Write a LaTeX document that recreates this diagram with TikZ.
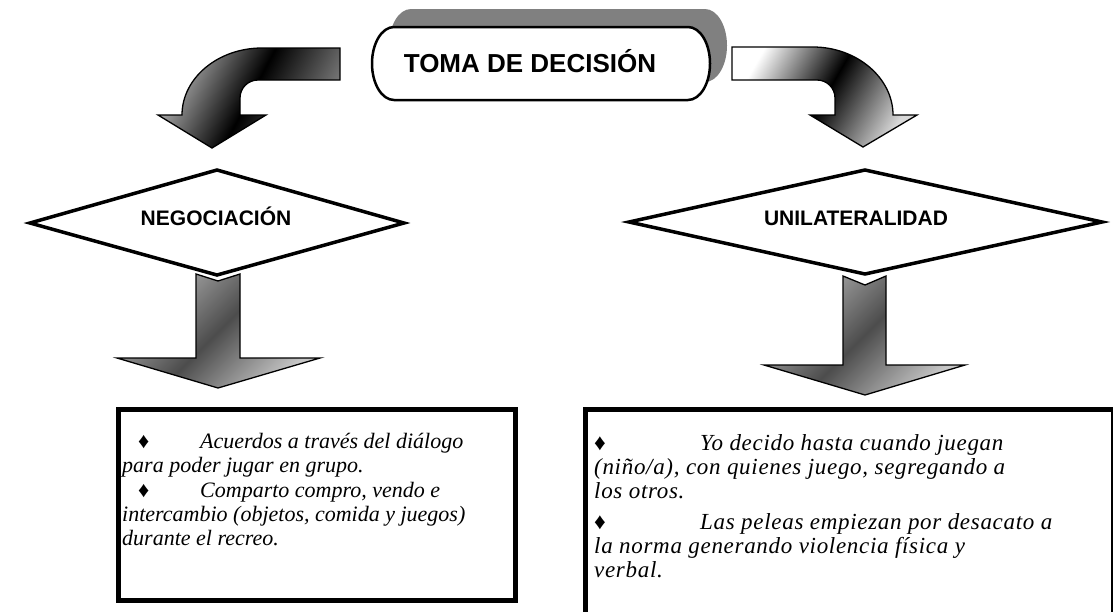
\documentclass[tikz,border=0pt]{standalone}
\usepackage{fontspec}
\setmainfont{Liberation Serif}
\newfontfamily\headfont{Liberation Sans}
\newfontfamily\rightbody[LetterSpace=3]{Liberation Serif}
\begin{document}
\begin{tikzpicture}[x=1pt,y=-1pt,
  titlebox/.style={draw=black,line width=2.5pt,fill=white},
  titleshadow/.style={fill=black!50},
  decisionbox/.style={draw=black,line width=3.5pt,fill=white,line join=miter},
  headtext/.style={font=\headfont\bfseries\fontsize{26}{30}\selectfont,inner sep=0pt},
  labeltext/.style={font=\headfont\bfseries\fontsize{21}{25}\selectfont,inner sep=0pt},
  bodytext/.style={font=\fontsize{22}{25}\selectfont\itshape,inner sep=0pt,anchor=base west},
  rbodytext/.style={font=\rightbody\fontsize{23}{25}\selectfont\itshape,inner sep=0pt,anchor=base west},
  leftbend/.style={draw=black,line width=1.3pt,line join=miter,
     left color=black!30,right color=black!50,middle color=black,shading angle=62},
  rightbend/.style={draw=black,line width=1.3pt,line join=miter,
     left color=white,right color=white!85!black,middle color=black,shading angle=60},
  downarrow/.style={draw=black,line width=1.3pt,line join=miter,
     left color=black!30,right color=black!22,middle color=black!70,shading angle=45},
  framebox/.style={draw=black,line width=5pt,line join=miter},
]
\useasboundingbox (0,0) rectangle (1115,611);
\clip (0,0) rectangle (1115,611);

% title with shadow
\fill[titleshadow] (411,9) -- (705,9) arc (-90:90:22 and 36.5) -- (411,82) arc (90:270:22 and 36.5) -- cycle;
\draw[titlebox] (394,27) -- (688,27) arc (-90:90:22 and 36.5) -- (394,100) arc (90:270:22 and 36.5) -- cycle;
\node[headtext,anchor=base] (toma) at (530,72) {TOMA DE DECISIÓN};

% curved arrows
\shade[leftbend] (340,48) -- (262,48) .. controls (218,48) and (182,78) .. (182,115)
  -- (158,115) -- (212,148) -- (266,115) -- (240,115) -- (240,98)
  .. controls (240,88) and (248,80) .. (258,80) -- (340,80) -- cycle;
\shade[rightbend] (732,47) -- (813,47) .. controls (857,47) and (893,78) .. (893,115)
  -- (917,115) -- (863,147) -- (810,115) -- (835,115) -- (835,98)
  .. controls (835,88) and (827,80) .. (817,80) -- (732,80) -- cycle;

% decision diamonds
\draw[decisionbox] (30,223) -- (217,170) -- (404,223) -- (217,275) -- cycle;
\node[labeltext,anchor=base] (neg) at (216,225) {NEGOCIACIÓN};
\draw[decisionbox] (629,222) -- (865,170) -- (1102,222) -- (865,274) -- cycle;
\node[labeltext,anchor=base] (uni) at (856,225) {UNILATERALIDAD};

% straight arrows
\shade[downarrow] (196,274) -- (218,281) -- (240,274) -- (240,358) -- (320,358)
  -- (218,388) -- (117,358) -- (196,358) -- cycle;
\shade[downarrow] (843,276) -- (865,285) -- (886,276) -- (886,365) -- (965,365)
  -- (865,395) -- (764,365) -- (843,365) -- cycle;

% result boxes
\draw[framebox] (118,409) rectangle (515,600);
\draw[framebox] (1112,409) -- (585,409) -- (585,640);
\draw[line width=1.5pt] (1112,407) -- (1112,640);

% left box text
\node[bodytext] (l1) at (138,448) {\makebox[62pt][l]{\upshape ♦}Acuerdos a través del diálogo};
\node[bodytext] (l2) at (122,472) {para poder jugar en grupo.};
\node[bodytext] (l3) at (138,497) {\makebox[62pt][l]{\upshape ♦}Comparto compro, vendo e};
\node[bodytext] (l4) at (122,521) {intercambio (objetos, comida y juegos)};
\node[bodytext] (l5) at (122,545) {durante el recreo.};

% right box text
\node[rbodytext] (r1) at (594,450) {\makebox[106pt][l]{\upshape ♦}Yo decido hasta cuando juegan};
\node[rbodytext] (r2) at (594,474) {(niño/a), con quienes juego, segregando a};
\node[rbodytext] (r3) at (594,498) {los otros.};
\node[rbodytext] (r4) at (594,529) {\makebox[106pt][l]{\upshape ♦}Las peleas empiezan por desacato a};
\node[rbodytext] (r5) at (594,553) {la norma generando violencia física y};
\node[rbodytext] (r6) at (594,577) {verbal.};
\end{tikzpicture}
\end{document}
